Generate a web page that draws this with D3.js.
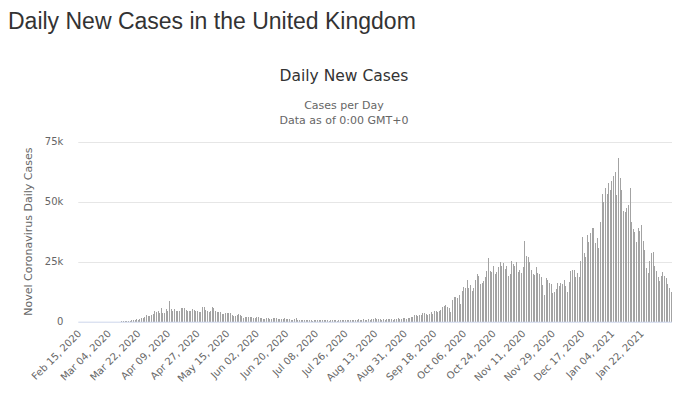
<!DOCTYPE html>
<html><head><meta charset="utf-8">
<script src="https://cdn.jsdelivr.net/npm/d3@7"></script>
<style>body{margin:0;background:#fff;} svg{display:block;}</style>
</head><body>
<svg id="chart" width="680" height="398"></svg>
<script>
// ---- DATA ----
const startDate = "2020-02-15";
const feb2020 = [0,0,0,0,0,0,0,0,0,4,0,0,2,5,3];
const mar2020 = [12,4,11,34,30,48,43,67,48,61,74,134,208,342,232,171,407,676,643,714,1035,665,967,1427,1452,2129,2885,2546,2433,2619,3009];
const apr2020 = [4324,4244,4450,3735,5903,3802,3634,5491,4344,8681,5233,4342,5252,4603,4617,4618,5599,5525,5850,4676,4301,4451,4583,5386,4913,4463,4309,3996,4076,6032];
const may2020 = [6201,4806,4339,3985,4406,6111,5614,4649,3896,3923,3877,3403,3242,3446,3560,3450,3534,2684,2412,2472,2615,3287,2959,2409,1625,2004,2013,1887,2095,1936,1570];
const jun2020 = [1653,1871,1805,1650,1557,1326,1205,1741,1387,1003,1266,1541,1425,1514,1056,1279,1115,1218,1346,1295,1221,958,874,653,1118,1380,890,901,815,689];
const jul2020 = [829,576,544,624,516,352,581,630,512,820,650,598,530,538,642,463,687,827,580,560,445,769,762,768,767,747,685,581,763,846,880];
const aug2020 = [743,744,938,670,892,950,871,758,1062,816,1148,1009,1441,1012,1040,1077,713,1089,812,1182,1033,1288,1041,853,1184,1048,1522,1276,1108,1715,1406];
const sep2020 = [1295,1508,1735,1940,1813,2988,2948,2460,2659,2919,3539,3497,3330,2621,3105,3991,3395,4322,4422,3899,4368,4926,6178,6634,6874,6042,5693,4044,9200,10100];
const oct2020 = [10400,9800,11000,7200,12594,14542,14162,17540,13864,15166,12872,13972,17234,19724,18980,15650,16171,16982,18804,21331,26688,21242,20530,23012,19790,20890,22885,24701,23065,24405,21915];
const nov2020 = [23254,18950,20018,25177,24141,23287,24957,20572,21350,20412,22950,33470,27301,26860,24962,21363,20051,19609,22915,20252,19875,18662,15450,11299,18213,17555,16022,15871,12155,12330];
const dec2020 = [13430,16170,14879,16298,15539,17272,14718,12282,16578,20964,21672,21502,18447,20263,18450,25161,35383,28507,27052,35928,33364,36804,39237,39036,32725,34693,30501,41385,53135,50023,55892];
const jan2021 = [53285,57725,54990,58784,60916,62322,52618,68053,59937,54940,46169,45533,47525,48682,55761,41346,38598,37535,33355,38905,37892,40261,33552,30004,22195,20089,25308,28680,29079,23275,21088];
const feb2021 = [18607,16840,19202,20634,19114,18262,15845,14104,12364];

const tickLabels = ["Feb 15, 2020","Mar 04, 2020","Mar 22, 2020","Apr 09, 2020","Apr 27, 2020","May 15, 2020","Jun 02, 2020","Jun 20, 2020","Jul 08, 2020","Jul 26, 2020","Aug 13, 2020","Aug 31, 2020","Sep 18, 2020","Oct 06, 2020","Oct 24, 2020","Nov 11, 2020","Nov 29, 2020","Dec 17, 2020","Jan 04, 2021","Jan 22, 2021"];
const yTicks = [0, 25000, 50000, 75000];

// ---- BUILD ----
const values = [].concat(feb2020, mar2020, apr2020, may2020, jun2020, jul2020, aug2020, sep2020, oct2020, nov2020, dec2020, jan2021, feb2021);
const parse = d3.timeParse("%Y-%m-%d");
const fmt = d3.timeFormat("%b %d, %Y");
const t0 = parse(startDate);
const data = values.map((v, i) => ({date: fmt(d3.timeDay.offset(t0, i)), value: v}));

const svg = d3.select("#chart");
const plotL = 78.3, plotR = 672, plotT = 141.7, plotB = 321.7;

const x = d3.scaleBand().domain(data.map(d => d.date)).range([plotL, plotR]).padding(0);
const y = d3.scaleLinear().domain([0, 75000]).range([plotB, plotT]);

// titles
svg.append("text").attr("x", 8).attr("y", 29)
  .attr("font-family", "'Liberation Sans', Arial, sans-serif").attr("font-size", 23)
  .attr("fill", "#333").text("Daily New Cases in the United Kingdom");
svg.append("text").attr("x", 344).attr("y", 81).attr("text-anchor", "middle")
  .attr("font-family", "'DejaVu Sans', sans-serif").attr("font-size", 15.5)
  .attr("fill", "#333").text("Daily New Cases");
svg.append("text").attr("x", 344).attr("y", 109).attr("text-anchor", "middle")
  .attr("font-family", "'DejaVu Sans', sans-serif").attr("font-size", 11)
  .attr("fill", "#666").text("Cases per Day");
svg.append("text").attr("x", 344).attr("y", 124).attr("text-anchor", "middle")
  .attr("font-family", "'DejaVu Sans', sans-serif").attr("font-size", 11)
  .attr("fill", "#666").text("Data as of 0:00 GMT+0");

// gridlines
svg.append("g").selectAll("line").data(yTicks.filter(t => t > 0)).join("line")
  .attr("x1", plotL).attr("x2", plotR)
  .attr("y1", d => Math.round(y(d)) + 0.5).attr("y2", d => Math.round(y(d)) + 0.5)
  .attr("stroke", "#e6e6e6").attr("stroke-width", 1);

// bars
svg.append("g").selectAll("rect").data(data).join("rect")
  .attr("x", d => Math.round(x(d.date) + x.bandwidth() / 2 - 0.5))
  .attr("width", 1)
  .attr("y", d => y(d.value))
  .attr("height", d => Math.max(0, plotB - y(d.value)))
  .attr("fill", "#a3a3a3")
  .attr("shape-rendering", "crispEdges");

// x axis
const xAxis = svg.append("g").attr("transform", `translate(0,${plotB})`)
  .call(d3.axisBottom(x).tickValues(tickLabels).tickSize(0).tickPadding(0));
xAxis.select(".domain").attr("stroke", "#ccd6eb").attr("d", `M${plotL},0.5H${plotR}`);
xAxis.selectAll("text")
  .attr("font-family", "'DejaVu Sans', sans-serif").attr("font-size", 10)
  .attr("fill", "#666").attr("text-anchor", "end")
  .attr("y", 0).attr("dy", 0)
  .attr("transform", "translate(3,12.5) rotate(-45)");

// y axis
const yAxis = svg.append("g").attr("transform", `translate(${plotL},0)`)
  .call(d3.axisLeft(y).tickValues(yTicks).tickSize(0).tickPadding(15)
    .tickFormat(d => d === 0 ? "0" : (d / 1000) + "k"));
yAxis.select(".domain").remove();
yAxis.selectAll("text")
  .attr("font-family", "'DejaVu Sans', sans-serif").attr("font-size", 10)
  .attr("fill", "#666");

svg.append("text")
  .attr("transform", `translate(32,${(plotT + plotB) / 2}) rotate(-90)`)
  .attr("text-anchor", "middle")
  .attr("font-family", "'DejaVu Sans', sans-serif").attr("font-size", 11)
  .attr("fill", "#666").text("Novel Coronavirus Daily Cases");
</script>
</body></html>
